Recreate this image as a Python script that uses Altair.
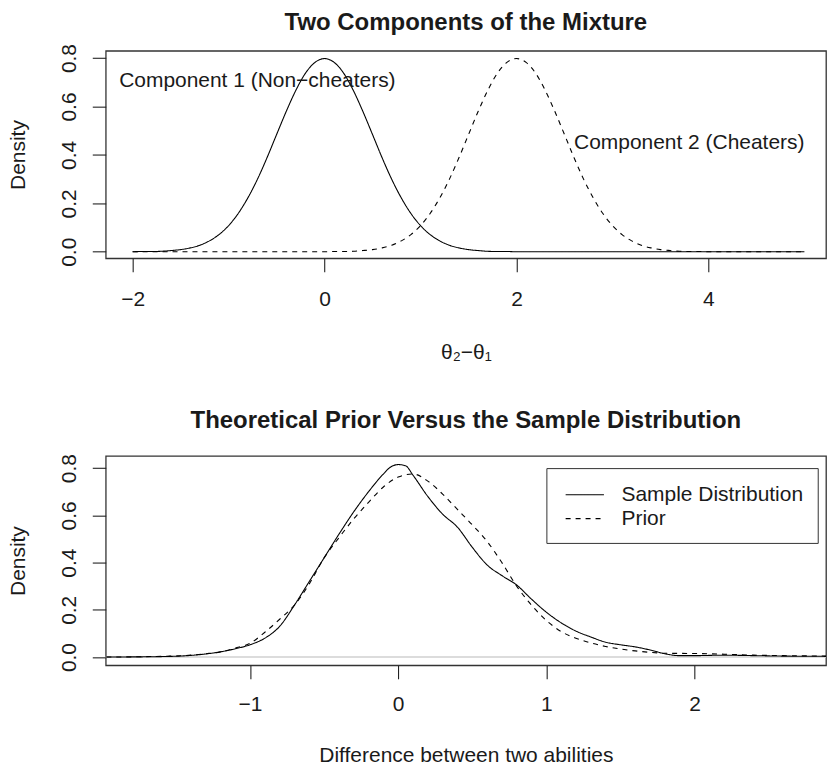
import altair as alt
import pandas as pd

FONT = "Liberation Sans"
INK = "#1a1a1a"

# ---- upper panel: the two mixture components ----
COMP1_X = [-2.0, -1.9, -1.8, -1.7, -1.6, -1.5, -1.4, -1.3, -1.2, -1.1, -1.0, -0.9, -0.8, -0.7, -0.6,
           -0.5, -0.4, -0.3, -0.2, -0.1, 0.0, 0.1, 0.2, 0.3, 0.4, 0.5, 0.6, 0.7, 0.8, 0.9, 1.0, 1.1,
           1.2, 1.3, 1.4, 1.5, 1.6, 1.7, 1.8, 1.9, 2.0, 3.0, 4.0, 5.0]
COMP1_Y = [0.000, 0.001, 0.001, 0.002, 0.005, 0.009, 0.016, 0.027, 0.045, 0.071, 0.108, 0.158, 0.222,
           0.299, 0.388, 0.484, 0.579, 0.666, 0.737, 0.782, 0.798, 0.782, 0.737, 0.666, 0.579, 0.484,
           0.388, 0.299, 0.222, 0.158, 0.108, 0.071, 0.045, 0.027, 0.016, 0.009, 0.005, 0.002, 0.001,
           0.001, 0.000, 0.000, 0.000, 0.000]
COMP2_X = [-2.0, -1.0, 0.0, 0.1, 0.2, 0.3, 0.4, 0.5, 0.6, 0.7, 0.8, 0.9, 1.0, 1.1, 1.2, 1.3, 1.4, 1.5,
           1.6, 1.7, 1.8, 1.9, 2.0, 2.1, 2.2, 2.3, 2.4, 2.5, 2.6, 2.7, 2.8, 2.9, 3.0, 3.1, 3.2, 3.3,
           3.4, 3.5, 3.6, 3.7, 3.8, 3.9, 4.0, 5.0]
COMP2_Y = [0.000, 0.000, 0.000, 0.001, 0.001, 0.002, 0.005, 0.009, 0.016, 0.027, 0.045, 0.071, 0.108,
           0.158, 0.222, 0.299, 0.388, 0.484, 0.579, 0.666, 0.737, 0.782, 0.798, 0.782, 0.737, 0.666,
           0.579, 0.484, 0.388, 0.299, 0.222, 0.158, 0.108, 0.071, 0.045, 0.027, 0.016, 0.009, 0.005,
           0.002, 0.001, 0.001, 0.000, 0.000]
COMP_NAMES = ["Component 1", "Component 2"]
NOTE_TEXT = ["Component 1 (Non\u2212cheaters)", "Component 2 (Cheaters)"]
NOTE_X = [-0.7, 3.8]
NOTE_Y = [0.705, 0.45]

# ---- lower panel: sample density against the prior ----
SAMPLE_X = [-1.97, -1.6, -1.4, -1.3, -1.2, -1.1, -1.0, -0.9, -0.8, -0.7, -0.6, -0.5, -0.4, -0.3, -0.2,
            -0.1, -0.05, 0.0, 0.05, 0.1, 0.2, 0.3, 0.4, 0.5, 0.6, 0.7, 0.8, 0.9, 1.0, 1.1, 1.2, 1.3,
            1.4, 1.5, 1.6, 1.7, 1.8, 1.9, 2.0, 2.2, 2.4, 2.6, 2.92]
SAMPLE_Y = [0.000, 0.002, 0.007, 0.013, 0.022, 0.035, 0.052, 0.080, 0.130, 0.220, 0.320, 0.420, 0.520,
            0.615, 0.700, 0.775, 0.805, 0.815, 0.810, 0.770, 0.680, 0.605, 0.550, 0.465, 0.390, 0.345,
            0.305, 0.245, 0.190, 0.145, 0.110, 0.085, 0.063, 0.052, 0.043, 0.030, 0.014, 0.006, 0.006,
            0.008, 0.006, 0.004, 0.003]
PRIOR_X = [-1.97, -1.6, -1.4, -1.3, -1.2, -1.1, -1.0, -0.9, -0.8, -0.7, -0.6, -0.5, -0.4, -0.3, -0.2,
           -0.1, 0.0, 0.1, 0.2, 0.3, 0.4, 0.5, 0.6, 0.7, 0.8, 0.9, 1.0, 1.1, 1.2, 1.3, 1.4, 1.5, 1.6,
           1.7, 1.8, 2.0, 2.2, 2.4, 2.6, 2.92]
PRIOR_Y = [0.000, 0.003, 0.008, 0.014, 0.022, 0.038, 0.058, 0.105, 0.160, 0.220, 0.310, 0.420, 0.505,
           0.585, 0.655, 0.720, 0.762, 0.775, 0.745, 0.690, 0.625, 0.560, 0.490, 0.400, 0.300, 0.220,
           0.155, 0.108, 0.080, 0.060, 0.045, 0.034, 0.026, 0.020, 0.016, 0.015, 0.012, 0.008, 0.006,
           0.004]
SERIES_NAMES = ["Sample Distribution", "Prior"]

DENSITY_TICKS = [0.0, 0.2, 0.4, 0.6, 0.8]

W = 722
H_TOP = 208
H_BOT = 210
DASHES = [[1, 0], [5, 5]]
# legend key: a horizontal stroke wider than the nominal symbol box
KEY_PATH = "M-1.6,0L1.6,0"

top_df = pd.concat([
    pd.DataFrame({"x": COMP1_X, "y": COMP1_Y, "comp": COMP_NAMES[0]}),
    pd.DataFrame({"x": COMP2_X, "y": COMP2_Y, "comp": COMP_NAMES[1]}),
])
notes_df = pd.DataFrame({"x": NOTE_X, "y": NOTE_Y, "label": NOTE_TEXT})

bot_df = pd.concat([
    pd.DataFrame({"x": SAMPLE_X, "y": SAMPLE_Y, "series": SERIES_NAMES[0]}),
    pd.DataFrame({"x": PRIOR_X, "y": PRIOR_Y, "series": SERIES_NAMES[1]}),
])


def y_axis():
    return alt.Axis(values=DENSITY_TICKS, format=".1f", title="Density", labelAngle=270,
                    labelAlign="center", labelBaseline="alphabetic", labelPadding=17,
                    tickSize=13.5, titleAngle=270, titleX=-81, titleBaseline="alphabetic",
                    titleAlign="center")


# upper panel: both layers share one x and one y definition
x_top = alt.X("x:Q", scale=alt.Scale(domain=[-2.28, 5.225], nice=False, zero=False),
              axis=alt.Axis(values=[-2, 0, 2, 4], format=".0f", title="\u03b8\u2082\u2212\u03b8\u2081",
                            labelBaseline="alphabetic", labelPadding=33.5, tickSize=13.5,
                            titleY=100, titleBaseline="alphabetic"))
y_top = alt.Y("y:Q", scale=alt.Scale(domain=[-0.027, 0.83], nice=False, zero=False), axis=y_axis())

top_lines = alt.Chart(top_df).mark_line(color="black", strokeWidth=1.1, interpolate="monotone").encode(
    x=x_top, y=y_top,
    strokeDash=alt.StrokeDash("comp:N", scale=alt.Scale(domain=COMP_NAMES, range=DASHES), legend=None),
)
top_notes = alt.Chart(notes_df).mark_text(font=FONT, fontSize=21, color=INK, align="center",
                                          baseline="middle").encode(
    x=x_top, y=y_top, text="label:N")

top = alt.layer(top_lines, top_notes).properties(
    width=W, height=H_TOP,
    title=alt.TitleParams("Two Components of the Mixture", fontSize=24, fontWeight="bold", font=FONT,
                          color=INK, baseline="alphabetic", offset=0, dy=10.6, anchor="middle",
                          frame="group"),
)

# lower panel
x_bot = alt.X("x:Q", scale=alt.Scale(domain=[-1.974, 2.888], nice=False, zero=False),
              axis=alt.Axis(values=[-1, 0, 1, 2], format=".0f",
                            title="Difference between two abilities",
                            labelBaseline="alphabetic", labelPadding=32.2, tickSize=13.5,
                            titleY=96, titleBaseline="alphabetic"))
y_bot = alt.Y("y:Q", scale=alt.Scale(domain=[-0.035, 0.852], nice=False, zero=False), axis=y_axis())

zero_line = alt.Chart(pd.DataFrame({"y": [0.0]})).mark_rule(color="#d0d0d0", strokeWidth=1.6).encode(
    y=y_bot
)
bot_lines = alt.Chart(bot_df).mark_line(color="black", strokeWidth=1.1, interpolate="monotone",
                                        clip=True).encode(
    x=x_bot, y=y_bot,
    strokeDash=alt.StrokeDash(
        "series:N", scale=alt.Scale(domain=SERIES_NAMES, range=DASHES),
        legend=alt.Legend(title=None, orient="none", legendX=441.7, legendY=12.3,
                          strokeColor="#333", fillColor="white", padding=13.7,
                          symbolOffset=11.8, labelLimit=0,
                          labelFont=FONT, labelFontSize=21, labelColor=INK, labelOffset=23.8,
                          symbolType=KEY_PATH, symbolSize=576, symbolStrokeWidth=1.1,
                          symbolStrokeColor="black", symbolFillColor="transparent",
                          rowPadding=1, cornerRadius=0),
    ),
)

bottom = alt.layer(zero_line, bot_lines).properties(
    width=W, height=H_BOT,
    title=alt.TitleParams("Theoretical Prior Versus the Sample Distribution", fontSize=24,
                          fontWeight="bold", font=FONT, color=INK, baseline="alphabetic",
                          offset=2.0, anchor="middle", frame="group"),
)

chart = alt.vconcat(top, bottom, spacing=198, bounds="flush").resolve_scale(
    x="independent", y="independent", strokeDash="independent"
).resolve_legend(
    strokeDash="independent"
).properties(
    padding={"left": 7, "top": 9, "right": 0, "bottom": 0},
    background="white",
).configure_view(
    stroke="#333", strokeWidth=1.3
).configure_axis(
    grid=False, domain=False, tickColor="#222", tickWidth=1.1,
    labelFont=FONT, labelFontSize=21, labelColor=INK,
    titleFont=FONT, titleFontSize=21, titleColor=INK, titleFontWeight="normal",
)

chart.save("out.html", embed_options={"renderer": "svg", "actions": False})
